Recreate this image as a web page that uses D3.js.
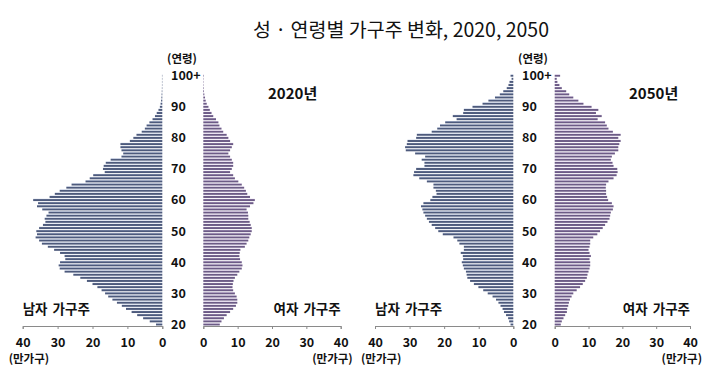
<!DOCTYPE html>
<html>
<head>
<meta charset="utf-8">
<script src="https://cdn.jsdelivr.net/npm/d3@7"></script>
<style>
  body { margin: 0; background: #fff; }
  text { font-family: "Noto Sans CJK KR", "Noto Sans", sans-serif; }
</style>
</head>
<body>
<div id="chart"></div>
<script>
// Ages 20 .. 100+ (bottom to top)
var ages = d3.range(20, 101);
var ageTicks = [20, 30, 40, 50, 60, 70, 80, 90, 100];
var xTicks = [0, 10, 20, 30, 40];

// household heads, 10k households (만가구), ages 20..100+
var male2020 = [1.8, 3.6, 5.5, 7.2, 8.8, 10.4, 11.6, 13.0, 14.3, 15.5,
  16.4, 17.4, 18.6, 20.0, 21.6, 23.5, 25.5, 28.0, 29.4, 29.7,
  29.3, 27.8, 28.0, 29.3, 31.0, 32.8, 34.5, 35.3, 36.3, 35.9,
  36.1, 35.3, 34.2, 33.5, 33.7, 33.2, 32.6, 34.4, 35.9, 35.6,
  37.0, 32.3, 30.8, 29.4, 27.5, 26.0, 22.0, 20.8, 19.8, 16.5,
  17.0, 16.8, 16.2, 14.8, 11.7, 11.2, 11.7, 12.0, 12.0, 9.3,
  8.3, 7.4, 5.9, 5.0, 4.5, 3.7, 2.8, 2.1, 1.6, 1.1,
  0.7, 0.5, 0.35, 0.25, 0.2, 0.15, 0.12, 0.1, 0.1, 0.1, 0.1];
var female2020 = [4.8, 5.3, 6.0, 6.8, 7.8, 8.7, 9.5, 9.9, 9.9, 9.7,
  9.2, 8.7, 8.5, 8.6, 8.8, 9.2, 9.9, 10.5, 11.2, 11.4,
  11.2, 10.7, 10.5, 10.6, 10.8, 12.1, 12.6, 13.1, 13.4, 13.8,
  14.1, 14.1, 13.8, 13.5, 13.1, 13.1, 13.0, 12.6, 13.6, 14.6,
  15.0, 13.6, 12.8, 12.4, 11.9, 11.2, 10.2, 9.2, 8.7, 7.8,
  8.3, 8.7, 8.7, 8.3, 7.8, 7.3, 7.8, 8.3, 8.7, 7.8,
  7.3, 6.8, 5.8, 5.3, 4.7, 4.4, 3.7, 2.9, 2.4, 1.9,
  1.5, 1.0, 0.7, 0.5, 0.3, 0.2, 0.15, 0.1, 0.1, 0.1, 0.15];
var male2050 = [0.8, 1.2, 1.5, 2.1, 2.7, 3.1, 3.7, 4.3, 5.0, 6.0,
  7.4, 8.7, 10.1, 11.4, 12.5, 13.3, 13.5, 13.7, 14.3, 14.6,
  14.9, 14.5, 14.6, 15.2, 14.3, 14.3, 15.6, 16.2, 17.3, 20.4,
  21.7, 22.6, 23.6, 24.4, 25.0, 25.5, 26.0, 26.3, 26.7, 26.0,
  24.0, 23.4, 22.2, 22.4, 23.1, 23.1, 25.0, 27.2, 28.9, 28.7,
  28.1, 25.7, 25.7, 26.5, 25.5, 28.4, 31.1, 31.3, 30.8, 30.6,
  28.1, 27.9, 23.6, 22.0, 21.2, 19.7, 16.4, 17.5, 14.5, 14.3,
  11.8, 8.9, 7.2, 5.3, 3.9, 2.9, 1.9, 1.4, 1.1, 0.5, 0.8];
var female2050 = [1.8, 2.1, 2.6, 3.1, 3.6, 3.7, 4.0, 4.2, 4.5, 5.0,
  5.5, 6.5, 7.5, 8.3, 9.0, 9.5, 9.7, 10.0, 10.3, 10.5,
  10.5, 10.3, 10.7, 10.3, 10.0, 10.3, 10.5, 10.5, 11.4, 12.6,
  13.4, 14.2, 14.9, 15.6, 16.2, 16.4, 16.6, 17.2, 17.4, 16.9,
  15.8, 15.5, 15.2, 15.2, 15.1, 15.2, 15.9, 17.4, 18.3, 18.6,
  18.5, 17.4, 17.1, 16.6, 16.9, 17.8, 18.8, 18.8, 19.1, 19.5,
  18.8, 19.5, 17.2, 15.9, 15.4, 14.9, 12.7, 13.9, 12.2, 12.9,
  10.9, 8.5, 7.0, 5.5, 4.3, 3.4, 2.1, 1.4, 0.8, 0.6, 1.6];

var svgWidth = 720, svgHeight = 386;

var svg = d3.select("#chart")
  .append("svg")
  .attr("width", svgWidth)
  .attr("height", svgHeight);

// gradients for the striped bar look
var defs = svg.append("defs");
function addGrad(id, light, dark) {
  var g = defs.append("linearGradient")
    .attr("id", id).attr("x1", 0).attr("y1", 0).attr("x2", 0).attr("y2", 1);
  g.append("stop").attr("offset", "0%").attr("stop-color", light);
  g.append("stop").attr("offset", "35%").attr("stop-color", dark);
  g.append("stop").attr("offset", "100%").attr("stop-color", dark);
}
addGrad("gMale", "#b4c0da", "#4d5a7c");
addGrad("gFemale", "#d6c6e4", "#6c5b86");

// Title
svg.append("text")
  .attr("x", 401)
  .attr("y", 37)
  .attr("text-anchor", "middle")
  .style("font-size", "19.5px")
  .style("fill", "#111")
  .text("성 · 연령별 가구주 변화, 2020, 2050");

var yScale = d3.scaleBand()
  .domain(ages.slice().reverse())
  .range([74, 325.9])
  .paddingInner(0.28)
  .paddingOuter(0.14);

var axisY = 326;

var panels = [
  { year: "2020년", male: male2020, female: female2020,
    mRange: [162.3, 22.7], fRange: [203.3, 340.7], ageX: 171, yearX: 268 },
  { year: "2050년", male: male2050, female: female2050,
    mRange: [513.3, 375], fRange: [554.7, 690], ageX: 522, yearX: 629 }
];

panels.forEach(function(p) {
  var g = svg.append("g");

  var xMale = d3.scaleLinear().domain([0, 40]).range(p.mRange);
  var xFemale = d3.scaleLinear().domain([0, 40]).range(p.fRange);

  // male bars
  g.selectAll(".m")
    .data(ages)
    .enter()
    .append("rect")
    .attr("x", (d, i) => xMale(p.male[i]))
    .attr("y", d => yScale(d))
    .attr("width", (d, i) => xMale(0) - xMale(p.male[i]))
    .attr("height", yScale.bandwidth())
    .attr("fill", "url(#gMale)");

  // female bars
  g.selectAll(".f")
    .data(ages)
    .enter()
    .append("rect")
    .attr("x", xFemale(0))
    .attr("y", d => yScale(d))
    .attr("width", (d, i) => xFemale(p.female[i]) - xFemale(0))
    .attr("height", yScale.bandwidth())
    .attr("fill", "url(#gFemale)");

  // axes
  [xMale, xFemale].forEach(function(sc) {
    var ax = g.append("g")
      .attr("transform", `translate(0, ${axisY})`)
      .call(d3.axisBottom(sc).tickValues(xTicks).tickSize(3).tickPadding(9));
    ax.select(".domain").attr("stroke", "#8a8a8a");
    ax.selectAll(".tick line").attr("stroke", "#8a8a8a");
    ax.selectAll(".tick text")
      .style("font-size", "12.5px")
      .style("font-weight", "bold")
      .style("font-family", "'Noto Sans CJK KR', sans-serif")
      .attr("fill", "#111");
  });

  // age labels
  g.selectAll(".age")
    .data(ageTicks)
    .enter()
    .append("text")
    .attr("x", p.ageX)
    .attr("y", d => yScale(d) + yScale.bandwidth() / 2)
    .attr("dy", "0.36em")
    .style("font-size", "12.5px")
    .style("font-weight", "bold")
    .style("fill", "#111")
    .text(d => d === 100 ? "100+" : d);

  svg.append("text")
    .attr("x", p.ageX + 11)
    .attr("y", 63)
    .attr("text-anchor", "middle")
    .style("font-size", "11.5px")
    .style("font-weight", "bold")
    .style("fill", "#111")
    .text("(연령)");

  svg.append("text")
    .attr("x", p.yearX)
    .attr("y", 99)
    .style("font-size", "15px")
    .style("font-weight", "bold")
    .style("fill", "#111")
    .text(p.year);

  svg.append("text")
    .attr("x", p.mRange[1])
    .attr("y", 314)
    .style("font-size", "13.5px")
    .style("font-weight", "bold")
    .style("word-spacing", "2px")
    .style("fill", "#111")
    .text("남자 가구주");

  svg.append("text")
    .attr("x", p.fRange[1])
    .attr("y", 314)
    .attr("text-anchor", "end")
    .style("font-size", "13.5px")
    .style("font-weight", "bold")
    .style("word-spacing", "2px")
    .style("fill", "#111")
    .text("여자 가구주");

  svg.append("text")
    .attr("x", p.mRange[1] - 14)
    .attr("y", 363)
    .style("font-size", "11.5px")
    .style("font-weight", "bold")
    .style("fill", "#111")
    .text("(만가구)");

  svg.append("text")
    .attr("x", p.fRange[1] + 12)
    .attr("y", 363)
    .attr("text-anchor", "end")
    .style("font-size", "11.5px")
    .style("font-weight", "bold")
    .style("fill", "#111")
    .text("(만가구)");
});
</script>
</body>
</html>
